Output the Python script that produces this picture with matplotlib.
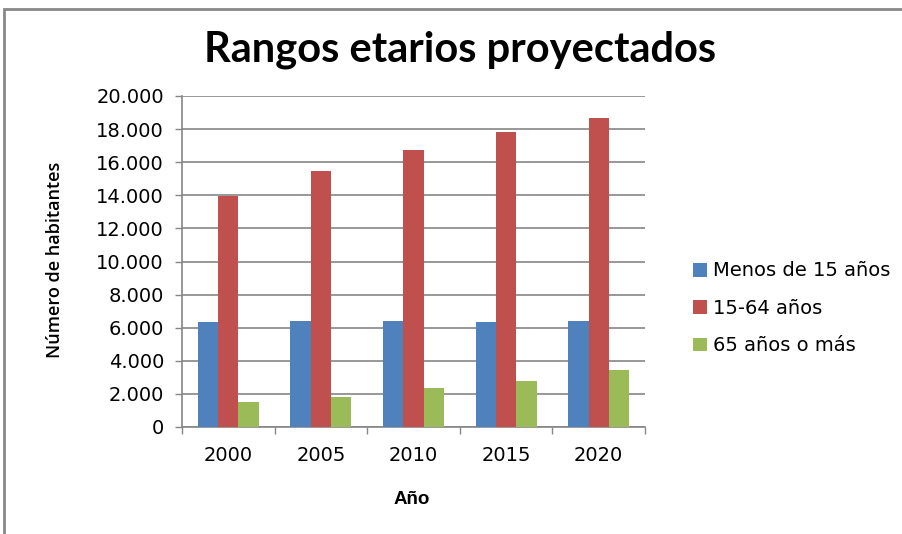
import matplotlib
matplotlib.use("Agg")
import matplotlib.pyplot as plt
import numpy as np
from matplotlib.patches import Rectangle
from matplotlib.ticker import FuncFormatter

years = ["2000", "2005", "2010", "2015", "2020"]
series_names = ["Menos de 15 años", "15-64 años", "65 años o más"]
menos15 = [6330, 6390, 6390, 6330, 6390]
de15a64 = [13980, 15460, 16730, 17830, 18680]
mas65 = [1520, 1830, 2370, 2800, 3470]
colors = ["#4F81BD", "#C0504D", "#9BBB59"]

fig = plt.figure(figsize=(9.03, 5.34), dpi=100)
fig.patch.set_facecolor("white")
fig.patches.append(Rectangle((4/903, 0 - 0.01), 1.2, 1 - 9/534 + 0.01,
                             transform=fig.transFigure, fill=False,
                             edgecolor="#888888", linewidth=2))

ax = fig.add_axes([182/903, 1 - 427/534, (645 - 182)/903, (427 - 96)/534])

x = np.arange(len(years))
w = 0.22
for i, (vals, c, name) in enumerate(zip([menos15, de15a64, mas65], colors, series_names)):
    ax.bar(x + (i - 1) * w, vals, width=w, color=c, label=name, zorder=3)

ax.set_xlim(-0.5, len(years) - 0.5)
ax.set_ylim(0, 20000)
ax.set_yticks(np.arange(0, 20001, 2000))
ax.yaxis.set_major_formatter(FuncFormatter(lambda v, p: f"{int(v):,}".replace(",", ".")))
ax.set_xticks(x)
ax.set_xticklabels(years)
ax.set_xticks(np.arange(-0.5, len(years)), minor=True)
ax.tick_params(axis="x", which="major", length=0, pad=14, labelsize=14, colors="black")
ax.tick_params(axis="x", which="minor", length=5, width=1, color="#868686")
ax.tick_params(axis="y", length=5, width=1, color="#868686", labelsize=14, pad=8)
ax.grid(axis="y", color="#868686", linewidth=1.2, zorder=0)
for s in ["top", "right"]:
    ax.spines[s].set_visible(False)
ax.spines["left"].set_color("#868686")
ax.spines["bottom"].set_color("#868686")
ax.spines["left"].set_linewidth(1.2)
ax.spines["bottom"].set_linewidth(1.2)

fig.text(460/903, 1 - 50/534, "Rangos etarios proyectados", ha="center", va="center",
         fontsize=30, fontweight="bold", family="Lato")
fig.text(55/903, 1 - 260/534, "Número de habitantes", rotation=90, ha="center", va="center",
         fontsize=13, family="Open Sans", fontweight="semibold")
fig.text(412/903, 1 - 500/534, "Año", ha="center", va="center", fontsize=13.5,
         family="Liberation Sans", fontweight="bold")

leg = fig.legend(loc="upper left", bbox_to_anchor=(676/903, 1 - 244/534), frameon=False,
                 fontsize=14, handlelength=0.7, handleheight=0.7, handletextpad=0.3,
                 labelspacing=0.95)

fig.savefig("out.png", dpi=100)
